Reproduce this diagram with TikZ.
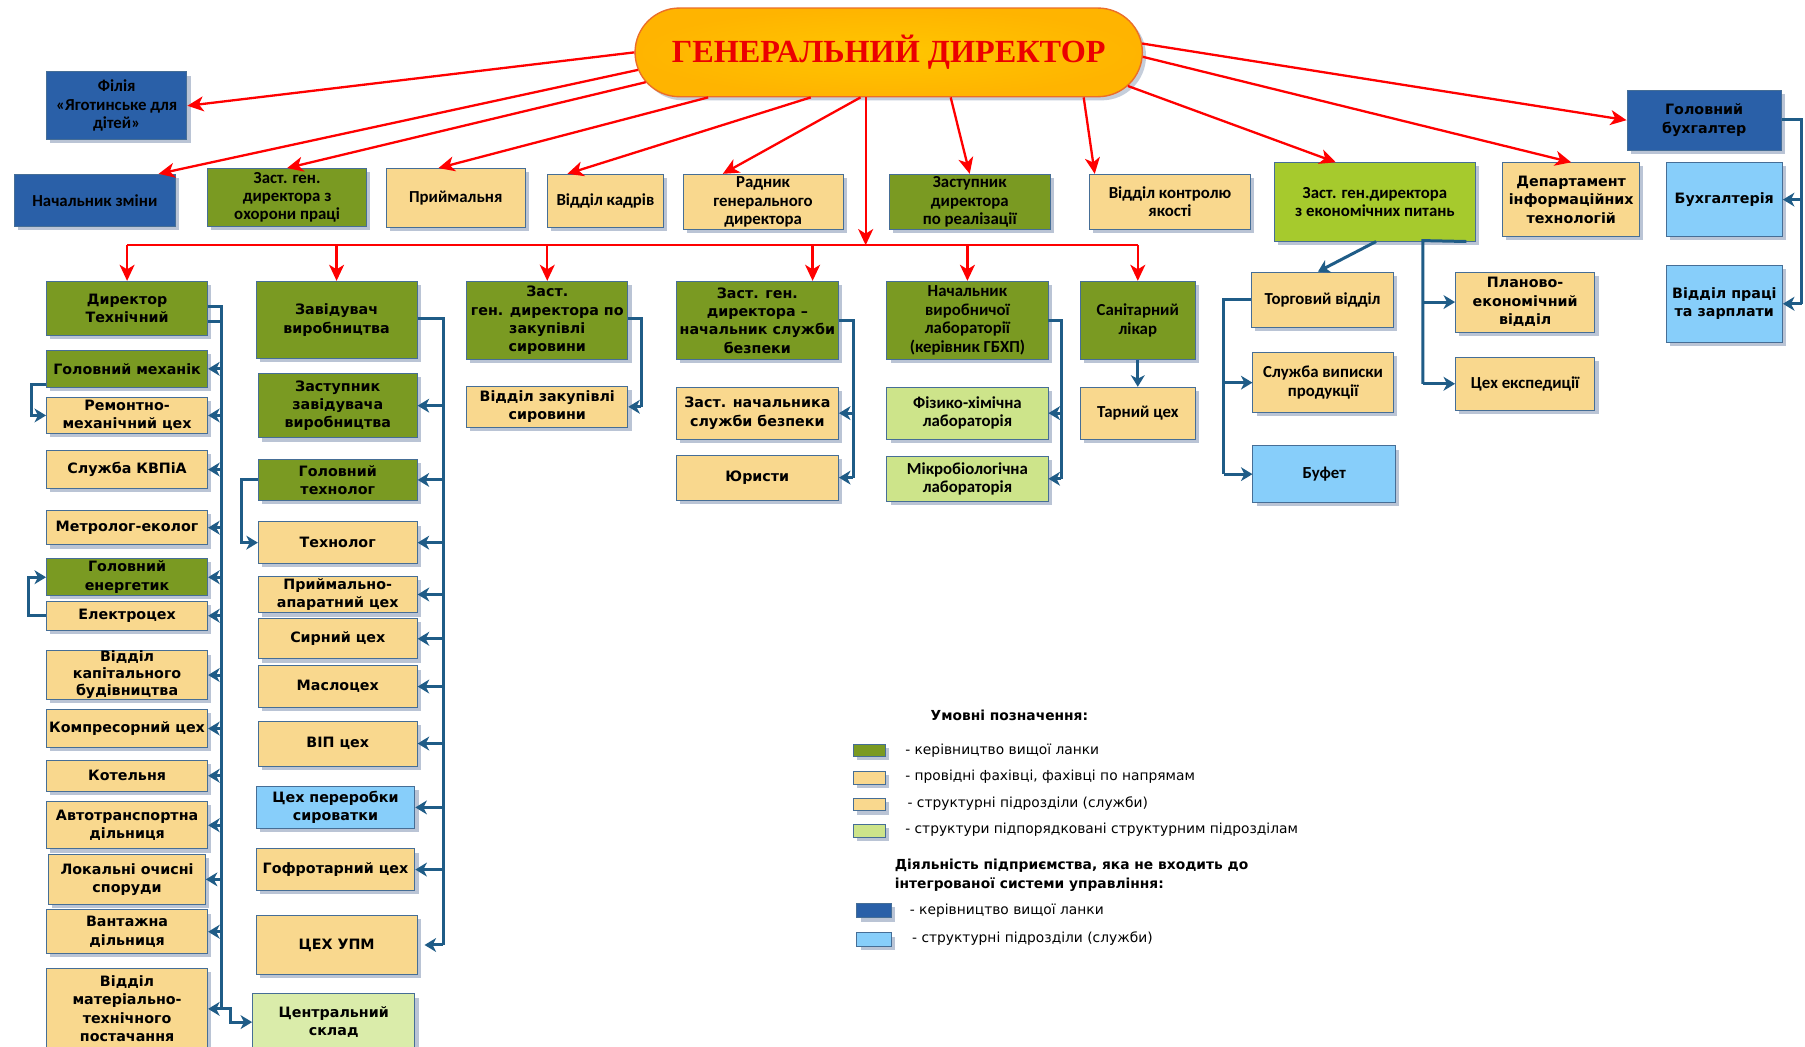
\documentclass[tikz,border=0pt]{standalone}
\usepackage{fontspec}
\setmainfont{DejaVu Sans}
\newfontfamily\wfont{DejaVu Sans}
\newfontfamily\nfont{Carlito}
\newfontfamily\gfont{Liberation Serif}
\usetikzlibrary{arrows.meta,shapes.misc,shadows,calc}

\definecolor{cdg}{RGB}{122,154,34}
\definecolor{ctan}{RGB}{249,216,142}
\definecolor{cyg}{RGB}{166,202,45}
\definecolor{clg}{RGB}{205,228,138}
\definecolor{clgb}{RGB}{218,236,170}
\definecolor{cdb}{RGB}{42,96,168}
\definecolor{clb}{RGB}{135,206,250}
\definecolor{cbord}{RGB}{70,110,150}
\definecolor{cshad}{RGB}{140,158,185}
\definecolor{cconn}{RGB}{31,92,135}

\tikzset{
  boxbase/.style={draw=cbord, line width=0.4pt, align=center, inner xsep=1pt, inner ysep=1pt, text=black,
    drop shadow={shadow xshift=1.6pt, shadow yshift=-1.6pt, fill=cshad, opacity=0.6}},
  wtxt/.style={font=\wfont\bfseries\fontsize{6.2}{8}\selectfont},
  ntxt/.style={font=\nfont\bfseries\fontsize{7.3}{8}\selectfont},
  bDG/.style={boxbase, fill=cdg},
  bTan/.style={boxbase, fill=ctan},
  bYG/.style={boxbase, fill=cyg},
  bLG/.style={boxbase, fill=clg},
  bLGB/.style={boxbase, fill=clgb},
  bDB/.style={boxbase, fill=cdb},
  bLB/.style={boxbase, fill=clb},
  rln/.style={draw=red, line width=1pt},
  rarr/.style={rln, -{Stealth[length=7pt,width=6.5pt,inset=2pt]}},
  bln/.style={draw=cconn, line width=1.3pt},
  barr/.style={bln, -{Stealth[length=5pt,width=6pt,inset=1.5pt]}},
  lgt/.style={font=\wfont\fontsize{6}{8}\selectfont, anchor=west, inner sep=0pt},
  lgb/.style={font=\wfont\bfseries\fontsize{6}{8}\selectfont, inner sep=0pt, align=left},
}

\newcommand{\obox}[7]{\node[#2, minimum width={(#5-#3)*0.5pt}, minimum height={(#6-#4)*0.5pt}, anchor=north west] (#1) at (#3,#4) {#7};}

\begin{document}
\begin{tikzpicture}[x=0.5pt,y=-0.5pt]
\useasboundingbox (0,0) rectangle (1568,909);
\fill[white] (0,0) rectangle (1568,909);

% General director
\node[rounded rectangle, minimum width=227pt, minimum height=38.5pt,
  inner color={rgb,255:red,255;green,198;blue,0}, outer color={rgb,255:red,255;green,180;blue,0},
  draw={rgb,255:red,235;green,110;blue,40}, line width=0.6pt,
  drop shadow={shadow xshift=1.6pt, shadow yshift=-1.6pt, fill=cshad, opacity=0.5},
  font=\gfont\bfseries\fontsize{14}{16}\selectfont, text={rgb,255:red,235;green,0;blue,0}] (gd) at (772,45.5) {ГЕНЕРАЛЬНИЙ ДИРЕКТОР};

% Top row
\obox{filia}{bDB,ntxt}{40}{62}{162}{121}{Філія\\«Яготинське для\\дітей»}
\obox{nz}{bDB,ntxt}{12}{151}{152}{196}{Начальник зміни}
\obox{ohp}{bDG,ntxt}{180}{146}{318}{196}{Заст. ген.\\директора з\\охорони праці}
\obox{pr}{bTan,ntxt}{335}{146}{456}{197}{Приймальня}
\obox{vk}{bTan,ntxt}{475}{151}{576}{197}{Відділ кадрів}
\obox{rad}{bTan,ntxt}{593}{151}{732}{199}{Радник\\генерального\\директора}
\obox{zr}{bDG,ntxt}{772}{151}{912}{199}{Заступник\\директора\\по реалізації}
\obox{vkya}{bTan,ntxt}{946}{151}{1086}{199}{Відділ контролю\\якості}
\obox{zek}{bYG,ntxt}{1107}{141}{1281}{209}{Заст. ген.директора\\з економічних питань}
\obox{dit}{bTan,wtxt}{1305}{141}{1424}{205}{Департамент\\інформаційних\\технологій}
\obox{gb}{bDB,wtxt}{1413}{78}{1547}{130}{Головний\\бухгалтер}
\obox{buh}{bLB,wtxt}{1447}{141}{1548}{205}{Бухгалтерія}
\obox{vpz}{bLB,wtxt}{1447}{230}{1548}{297}{Відділ праці\\та зарплати}

% Column 1
\obox{dt}{bDG,wtxt}{40}{244}{180}{291}{Директор\\Технічний}
\obox{gm}{bDG,wtxt}{40}{304}{180}{336}{Головний механік}
\obox{rmc}{bTan,wtxt}{40}{345}{180}{376}{Ремонтно-\\механічний цех}
\obox{kvp}{bTan,wtxt}{40}{391}{180}{424}{Служба КВПіА}
\obox{met}{bTan,wtxt}{40}{443}{180}{473}{Метролог-еколог}
\obox{ge}{bDG,wtxt}{40}{485}{180}{515}{Головний\\енергетик}
\obox{elc}{bTan,wtxt}{40}{522}{180}{547}{Електроцех}
\obox{vkb}{bTan,wtxt,font=\wfont\bfseries\fontsize{6.2}{7.4}\selectfont,inner ysep=0pt}{40}{565}{180}{607}{Відділ\\капітального\\будівництва}
\obox{komp}{bTan,wtxt}{40}{616}{180}{649}{Компресорний цех}
\obox{kot}{bTan,wtxt}{40}{660}{180}{687}{Котельня}
\obox{avt}{bTan,wtxt}{40}{696}{180}{737}{Автотранспортна\\дільниця}
\obox{loc}{bTan,wtxt}{42}{742}{178}{785}{Локальні очисні\\споруди}
\obox{van}{bTan,wtxt}{40}{790}{180}{828}{Вантажна\\дільниця}
\obox{mtp}{bTan,wtxt}{40}{841}{180}{911}{Відділ\\матеріально-\\технічного\\постачання}

% Column 2
\obox{zv}{bDG,wtxt}{222}{244}{362}{311}{Завідувач\\виробництва}
\obox{zzv}{bDG,wtxt}{224}{324}{362}{380}{Заступник\\завідувача\\виробництва}
\obox{gt}{bDG,wtxt}{224}{399}{362}{434}{Головний\\технолог}
\obox{tex}{bTan,wtxt}{224}{453}{362}{489}{Технолог}
\obox{pac}{bTan,wtxt}{224}{500}{362}{532}{Приймально-\\апаратний цех}
\obox{sir}{bTan,wtxt}{224}{537}{362}{572}{Сирний цех}
\obox{mas}{bTan,wtxt}{224}{578}{362}{614}{Маслоцех}
\obox{vip}{bTan,wtxt}{224}{626}{362}{665}{ВІП цех}
\obox{per}{bLB,wtxt}{222}{683}{360}{719}{Цех переробки\\сироватки}
\obox{gof}{bTan,wtxt}{222}{737}{360}{773}{Гофротарний цех}
\obox{upm}{bTan,wtxt}{222}{795}{362}{846}{ЦЕХ УПМ}
\obox{cs}{bLGB,wtxt}{219}{863}{360}{912}{Центральний\\склад}

% Column 3
\obox{zzs}{bDG,wtxt}{405}{244}{545}{312}{Заст.\\ген. директора по\\закупівлі\\сировини}
\obox{vzs}{bTan,wtxt}{405}{335}{545}{371}{Відділ закупівлі\\сировини}

% Column 4
\obox{zsb}{bDG,wtxt}{587}{244}{728}{312}{Заст. ген.\\директора –\\начальник служби\\безпеки}
\obox{zns}{bTan,wtxt}{587}{336}{728}{381}{Заст. начальника\\служби безпеки}
\obox{jur}{bTan,wtxt}{587}{395}{728}{434}{Юристи}

% Column 5, 6
\obox{nvl}{bDG,ntxt}{770}{244}{910}{312}{Начальник\\виробничої\\лабораторії\\(керівник ГБХП)}
\obox{fhl}{bLG,ntxt}{770}{336}{910}{381}{Фізико-хімічна\\лабораторія}
\obox{mbl}{bLG,ntxt}{770}{396}{910}{435}{Мікробіологічна\\лабораторія}
\obox{sl}{bDG,ntxt}{938}{244}{1038}{312}{Санітарний\\лікар}
\obox{tc}{bTan,ntxt}{938}{336}{1038}{381}{Тарний цех}

% Economic branch
\obox{tv}{bTan,ntxt}{1087}{236}{1210}{284}{Торговий відділ}
\obox{svp}{bTan,ntxt}{1088}{306}{1210}{358}{Служба виписки\\продукції}
\obox{buf}{bLB,ntxt}{1088}{387}{1212}{436}{Буфет}
\obox{pev}{bTan,wtxt}{1264}{236}{1385}{288}{Планово-\\економічний\\відділ}
\obox{cex}{bTan,ntxt}{1264}{310}{1385}{356}{Цех експедиції}

% Red connectors from general director
\coordinate (busj) at (752,213);
\draw[rarr] (gd.west) -- (filia.east);
\draw[rarr] (gd.184.5) -- ($(nz.north east)+(-15,0)$);
\draw[rarr] (gd.187.4) -- (ohp.north);
\draw[rarr] (gd.194) -- ($(pr.north)+(-15,0)$);
\draw[rarr] (gd.210.2) -- ($(vk.north)+(-33,0)$);
\draw[rarr] (gd.238.4) -- ($(rad.north)+(-35,0)$);
\draw[rarr] (gd.south -| busj) -- (busj);
\draw[rarr] (gd.324.2) -- (zr.north);
\draw[rarr] (gd.347.3) -- ($(vkya.north west)+(5,0)$);
\draw[rarr] (gd.352.5) -- ($(zek.north)+(-34,0)$);
\draw[rarr] (gd.359.5) -- (dit.north);
\draw[rarr] (gd.2.6) -- (gb.west);

% Red bus
\draw[rln] (dt.north |- busj) -- (sl.north |- busj);
\coordinate (zsbd) at ($(zsb.north)+(48,0)$);
\foreach \n in {dt,zv,zzs,nvl,sl} { \draw[rarr] (\n.north |- busj) -- (\n.north); }
\draw[rarr] (zsbd |- busj) -- (zsbd);

% Blue connectors column 1
\coordinate (c1) at (192,266);
\coordinate (c1b) at (192,279);
\draw[bln] (dt.east |- c1) -- (c1) -- (c1 |- mtp.east);
\draw[bln] (dt.east |- c1b) -- (c1b);
\foreach \n in {gm,rmc,kvp,met,ge,elc,vkb,komp,kot,avt,loc,van,mtp} { \draw[barr] (c1 |- \n.east) -- (\n.east); }
\draw[barr] (c1 |- mtp.east) -- ++(8,0) |- (cs.west);
\coordinate (l1) at (27,334);
\draw[barr] (gm.west |- l1) -- (l1) |- (rmc.west);
\coordinate (l2) at (25,534);
\draw[barr] (elc.west) -- (elc.west -| l2) |- (ge.west);

% Column 2
\coordinate (c2) at (385,277);
\draw[bln] (zv.east |- c2) -- (c2) -- (c2 |- upm.east);
\foreach \n in {zzv,gt,tex,pac,sir,mas,vip,per,gof} { \draw[barr] (c2 |- \n.east) -- (\n.east); }
\draw[barr] (c2 |- upm.east) -- ($(upm.east)+(6,0)$);
\coordinate (l3) at (210,416);
\draw[barr] (gt.west) -- (gt.west -| l3) |- (tex.west);

% Column 3
\coordinate (c3) at (557,277);
\draw[bln] (zzs.east |- c3) -- (c3) -- (c3 |- vzs.east);
\draw[barr] (c3 |- vzs.east) -- (vzs.east);

% Column 4
\coordinate (c4) at (741,278);
\draw[bln] (zsb.east |- c4) -- (c4) -- (c4 |- jur.east);
\draw[barr] (c4 |- zns.east) -- (zns.east);
\draw[barr] (c4 |- jur.east) -- (jur.east);

% Column 5
\coordinate (c5) at (922,278);
\draw[bln] (nvl.east |- c5) -- (c5) -- (c5 |- mbl.east);
\draw[barr] (c5 |- fhl.east) -- (fhl.east);
\draw[barr] (c5 |- mbl.east) -- (mbl.east);

% Column 6
\draw[barr] (sl.south) -- (tc.north);

% Economic branch
\draw[barr] ($(zek.south)+(1,0)$) -- ($(tv.north)+(-4,0)$);
\coordinate (c7) at (1063,260);
\draw[bln] (tv.west |- c7) -- (c7) -- (c7 |- buf.west);
\draw[barr] (c7 |- svp.west) -- (svp.west);
\draw[barr] (c7 |- buf.west) -- (buf.west);
\coordinate (c8) at (1236,209);
\draw[bln] ($(zek.south east)+(-8,0)$) -- (c8) -- (c8 |- cex.west);
\draw[barr] (c8 |- pev.west) -- (pev.west);
\draw[barr] (c8 |- cex.west) -- (cex.west);

% Chief accountant
\coordinate (c9) at (1565,104);
\draw[bln] (gb.east |- c9) -- (c9) -- (c9 |- vpz.east);
\draw[barr] (c9 |- buh.east) -- (buh.east);
\draw[barr] (c9 |- vpz.east) -- (vpz.east);

% Legend
\node[lgb, anchor=west] (lh) at (808,621) {Умовні позначення:};
\obox{s1}{bDG}{741}{646}{769}{657}{}
\obox{s2}{bTan}{741}{670}{769}{681}{}
\obox{s3}{bTan}{741}{693}{769}{704}{}
\obox{s4}{bLG}{741}{716}{769}{727}{}
\node[lgt] (t1) at (786,652) {- керівництво вищої ланки};
\node[lgt] (t2) at (786,675) {- провідні фахівці, фахівці по напрямам};
\node[lgt] (t3) at (788,698) {- структурні підрозділи (служби)};
\node[lgt] (t4) at (786,721) {- структури підпорядковані структурним підрозділам};
\node[lgb, anchor=north west] (lh2) at (777,746) {Діяльність підприємства, яка не входить до\\інтегрованої системи управління:};
\obox{s5}{bDB}{744}{784}{774}{797}{}
\obox{s6}{bLB}{744}{810}{774}{822}{}
\node[lgt] (t5) at (790,791) {- керівництво вищої ланки};
\node[lgt] (t6) at (792,815) {- структурні підрозділи (служби)};
\end{tikzpicture}
\end{document}
